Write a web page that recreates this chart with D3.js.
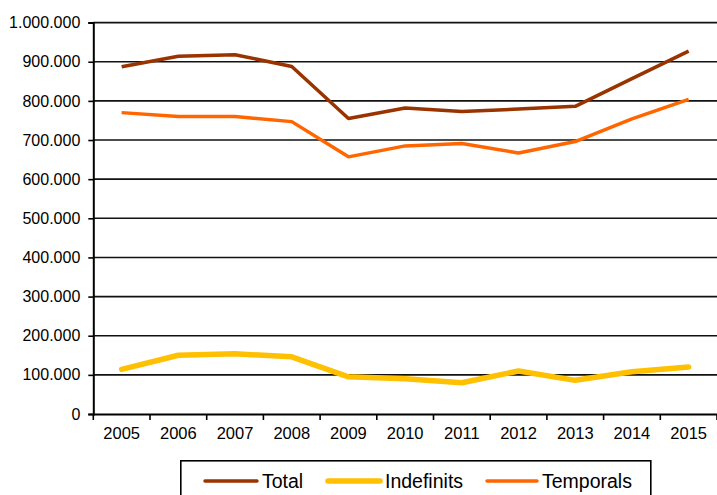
<!DOCTYPE html>
<html><head><meta charset="utf-8">
<script src="https://cdn.jsdelivr.net/npm/d3@7"></script>
<style>html,body{margin:0;padding:0;background:#fff;overflow:hidden}svg{display:block}</style>
</head><body>
<svg id="chart" width="717" height="495"></svg>
<script>
const years = ["2005","2006","2007","2008","2009","2010","2011","2012","2013","2014","2015"];
const total      = [887000, 914000, 918000, 888000, 755000, 782000, 773000, 779000, 786000, 857000, 927000];
const indefinits = [114000, 150000, 154000, 146000,  95000,  90000,  80000, 110000,  86000, 108000, 120000];
const temporals  = [770000, 760000, 760000, 747000, 657000, 685000, 691000, 667000, 696000, 754000, 804000];
const yTicks = [0,100000,200000,300000,400000,500000,600000,700000,800000,900000,1000000];
const seriesNames = ["Total","Indefinits","Temporals"];
const seriesColors = ["#993300","#FFC000","#FF6600"];
const seriesWidths = [3.5, 5.5, 3.5];
const seriesValues = [total, indefinits, temporals];

const svg = d3.select("#chart");
const x0 = 93.3, x1 = 717, yB = 414, yT = 22.6;
const x = d3.scaleBand().domain(years).range([x0, x1]);
const y = d3.scaleLinear().domain([0, 1000000]).range([yB, yT]);
const fmt = v => v === 0 ? "0" : d3.format(",")(v).replace(/,/g, ".");
const font = "'Liberation Sans', Arial, sans-serif";

// gridlines
svg.append("g").selectAll("line").data(yTicks.filter(d => d > 0)).join("line")
  .attr("x1", x0).attr("x2", x1).attr("y1", d => y(d)).attr("y2", d => y(d))
  .attr("stroke", "#111").attr("stroke-width", 1.6);

// y axis
const ya = svg.append("g").attr("transform", `translate(${x0},0)`)
  .call(d3.axisLeft(y).tickValues(yTicks).tickFormat(fmt).tickSize(5).tickPadding(8));
ya.select(".domain").attr("stroke", "#000").attr("stroke-width", 2);
ya.selectAll(".tick line").attr("stroke", "#000").attr("stroke-width", 1.6);
ya.selectAll("text").attr("font-family", font).attr("font-size", "16px").attr("fill", "#000");

// x axis
const xa = svg.append("g").attr("transform", `translate(0,${yB})`)
  .call(d3.axisBottom(x).tickSize(0).tickPadding(13));
xa.select(".domain").attr("stroke", "#000").attr("stroke-width", 2);
xa.selectAll("text").attr("font-family", font).attr("font-size", "16.5px").attr("fill", "#000");
// boundary tick marks
svg.append("g").selectAll("line").data(years.map((d, i) => i).concat([years.length])).join("line")
  .attr("x1", i => x0 + i * x.step()).attr("x2", i => x0 + i * x.step())
  .attr("y1", yB).attr("y2", yB + 6).attr("stroke", "#000").attr("stroke-width", 1.6);

// lines
const line = d3.line().x((d, i) => x(years[i]) + x.bandwidth() / 2).y(d => y(d));
const order = [0, 2, 1];
order.forEach(k => {
  svg.append("path").datum(seriesValues[k]).attr("d", line)
    .attr("fill", "none").attr("stroke", seriesColors[k])
    .attr("stroke-width", seriesWidths[k]).attr("stroke-linejoin", "round")
    .attr("stroke-linecap", k === 1 ? "round" : "butt");
});

// legend
const lg = svg.append("g");
lg.append("rect").attr("x", 180.8).attr("y", 460.8).attr("width", 470).attr("height", 50)
  .attr("fill", "#fff").attr("stroke", "#000").attr("stroke-width", 1.6);
const legX = [205, 328, 487];
const legLen = [52, 52, 50];
seriesNames.forEach((n, k) => {
  lg.append("line").attr("x1", legX[k]).attr("x2", legX[k] + legLen[k]).attr("y1", 481).attr("y2", 481)
    .attr("stroke", seriesColors[k]).attr("stroke-width", seriesWidths[k]).attr("stroke-linecap", "round");
  lg.append("text").attr("x", legX[k] + legLen[k] + 5).attr("y", 481).attr("dy", "0.35em")
    .attr("font-family", font).attr("font-size", "19.5px").attr("fill", "#000").text(n);
});
</script>
</body></html>
